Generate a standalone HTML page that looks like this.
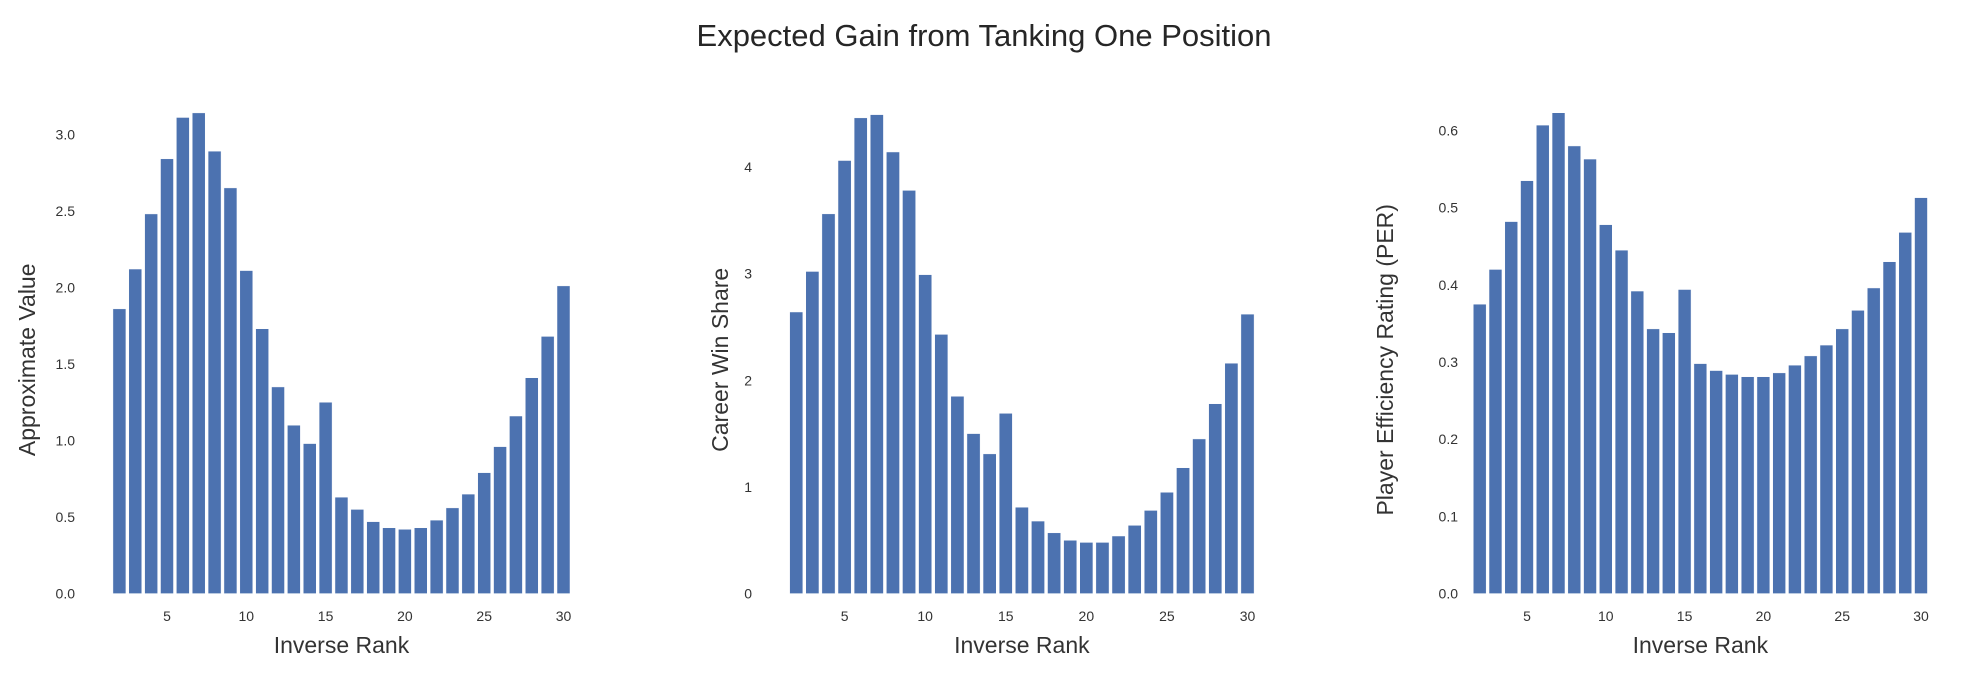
<!DOCTYPE html>
<html><head><meta charset="utf-8">
<style>
html,body{margin:0;padding:0;background:#fff;}
svg{display:block;font-family:"Liberation Sans",Arial,sans-serif;}
</style></head>
<body>
<svg id="fig" width="1968" height="680" viewBox="0 0 1968 680">
<text x="984" y="46" text-anchor="middle" font-size="31" fill="#262626">Expected Gain from Tanking One Position</text>
</svg>
<script>
const ranks = [2,3,4,5,6,7,8,9,10,11,12,13,14,15,16,17,18,19,20,21,22,23,24,25,26,27,28,29,30];
const avValues = [1.86,2.12,2.48,2.84,3.11,3.14,2.89,2.65,2.11,1.73,1.35,1.10,0.98,1.25,0.63,0.55,0.47,0.43,0.42,0.43,0.48,0.56,0.65,0.79,0.96,1.16,1.41,1.68,2.01];
const wsValues = [2.64,3.02,3.56,4.06,4.46,4.49,4.14,3.78,2.99,2.43,1.85,1.50,1.31,1.69,0.81,0.68,0.57,0.50,0.48,0.48,0.54,0.64,0.78,0.95,1.18,1.45,1.78,2.16,2.62];
const perValues = [0.375,0.42,0.482,0.535,0.607,0.623,0.58,0.563,0.478,0.445,0.392,0.343,0.338,0.394,0.298,0.289,0.284,0.281,0.281,0.286,0.296,0.308,0.322,0.343,0.367,0.396,0.43,0.468,0.513];
const xTicks = [5,10,15,20,25,30];
const avTicks = [0.0,0.5,1.0,1.5,2.0,2.5,3.0];
const wsTicks = [0,1,2,3,4];
const perTicks = [0.0,0.1,0.2,0.3,0.4,0.5,0.6];

const NS = "http://www.w3.org/2000/svg";
const svg = document.getElementById('fig');
function mk(tag, attrs, parent){
  const e = document.createElementNS(NS, tag);
  for (const k in attrs) e.setAttribute(k, attrs[k]);
  (parent||svg).appendChild(e);
  return e;
}
const panels = [
  {key:'av', vals:avValues, ticks:avTicks, dec:1, x5:167, x30:563.5, y0:593.6, yv:3.0, yp:134.3, tickRight:75, ylabX:27, ylab:'Approximate Value'},
  {key:'ws', vals:wsValues, ticks:wsTicks, dec:0, x5:844.6, x30:1247.5, y0:593.6, yv:4, yp:166.9, tickRight:752, ylabX:720, ylab:'Career Win Share'},
  {key:'per', vals:perValues, ticks:perTicks, dec:1, x5:1527, x30:1921, y0:593.6, yv:0.6, yp:130.5, tickRight:1458, ylabX:1385, ylab:'Player Efficiency Rating (PER)'}
];
panels.forEach(p => {
  const g = mk('g', {});
  
  
  const xs = (v) => p.x5 + (v - 5) * (p.x30 - p.x5) / 25;
  const ys = (v) => p.y0 - v * (p.y0 - p.yp) / p.yv;
  const unit = (p.x30 - p.x5) / 25;
  ranks.forEach((r, i) => {
    const v = p.vals[i];
    const b = mk('rect', {x: xs(r) - unit*0.41, y: ys(v), width: unit*0.82, height: ys(0) - ys(v), fill:'#4c72b0', stroke:'#fff', 'stroke-width':0.5}, g);
    
    
  });
  p.ticks.forEach(t => {
    const tx = mk('text', {x: p.tickRight, y: ys(t) + 5, 'text-anchor':'end', 'font-size':14, fill:'#333'}, g);
    tx.textContent = t.toFixed(p.dec);
    
    
  });
  xTicks.forEach(t => {
    const tx = mk('text', {x: xs(t), y: 621, 'text-anchor':'middle', 'font-size':14, fill:'#333'}, g);
    tx.textContent = t;
    
    
  });
  const xl = mk('text', {x: (xs(1.6)+xs(30.4))/2, y: 653, 'text-anchor':'middle', 'font-size':23, fill:'#333'}, g);
  xl.textContent = 'Inverse Rank';
  
  
  const cy = (p.y0 + 110) / 2 + 8;
  const yl = mk('text', {x: p.ylabX, y: cy, 'text-anchor':'middle', 'font-size':23, fill:'#333', transform:'rotate(-90 ' + p.ylabX + ' ' + cy + ')', dy:'0.35em'}, g);
  yl.textContent = p.ylab;
  
  
});
</script>
</body></html>
